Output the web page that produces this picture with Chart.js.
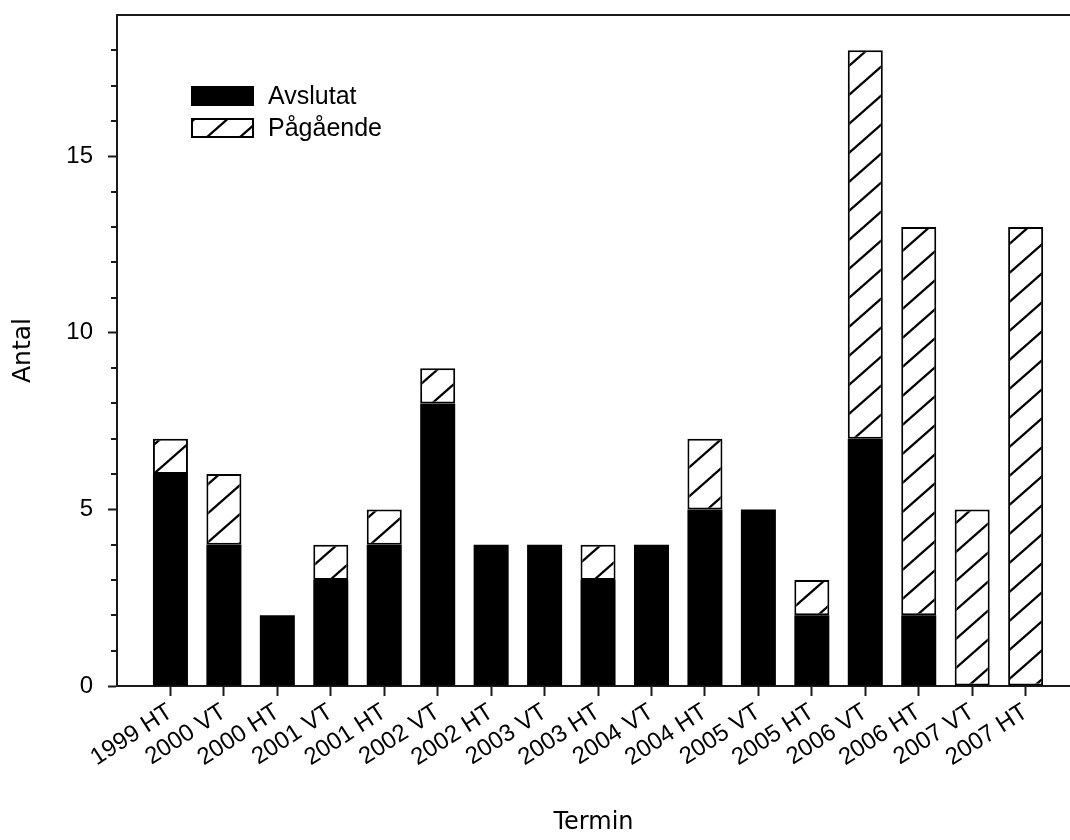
<!DOCTYPE html>
<html>
<head>
<meta charset="utf-8">
<script src="https://cdn.jsdelivr.net/npm/chart.js@4/dist/chart.umd.min.js"></script>
<style>
  html, body { margin: 0; padding: 0; background: #fff; overflow: hidden; }
  #wrap { width: 1070px; height: 840px; position: relative; }
</style>
</head>
<body>
<div id="wrap"><canvas id="c"></canvas></div>
<script>
// ---- data ----
const categories = ['1999 HT','2000 VT','2000 HT','2001 VT','2001 HT','2002 VT','2002 HT','2003 VT','2003 HT','2004 VT','2004 HT','2005 VT','2005 HT','2006 VT','2006 HT','2007 VT','2007 HT'];
const avslutat  = [6, 4, 2, 3, 4, 8, 4, 4, 3, 4, 5, 5, 2, 7, 2, 0, 0];
const pagaende  = [1, 2, 0, 1, 1, 1, 0, 0, 1, 0, 2, 0, 1, 11, 11, 5, 13];
const seriesLabels = ['Avslutat', 'Pågående'];
const yTickValues = [0, 5, 10, 15];
const xTitle = 'Termin';
const yTitle = 'Antal';

// ---- hatch pattern ----
function makeHatch() {
  const W = 33, H = 29;
  const pc = document.createElement('canvas');
  pc.width = W; pc.height = H;
  const p = pc.getContext('2d');
  p.fillStyle = '#fff';
  p.fillRect(0, 0, W, H);
  p.strokeStyle = '#000';
  p.lineWidth = 2.3;
  for (const off of [-H, 0, H]) {
    p.beginPath();
    p.moveTo(-W, 2 * H + off);
    p.lineTo(2 * W, -H + off);
    p.stroke();
  }
  return p.createPattern(pc, 'repeat');
}
const hatch = makeHatch();

const toXY = arr => arr.map((v, i) => ({ x: i + 1, y: v }));

const AXIS_COLOR = '#1a1a1a';

const framePlugin = {
  id: 'frame',
  afterDraw(chart) {
    const ctx = chart.ctx;
    const a = chart.chartArea;
    const ys = chart.scales.y;
    ctx.save();
    ctx.strokeStyle = AXIS_COLOR;
    ctx.lineWidth = 2;
    // top frame line
    ctx.beginPath();
    ctx.moveTo(a.left - 1, a.top);
    ctx.lineTo(a.right, a.top);
    ctx.stroke();
    // minor ticks on y axis
    for (let v = 1; v < ys.max; v++) {
      if (v % 5 === 0) continue;
      const py = Math.round(ys.getPixelForValue(v));
      ctx.beginPath();
      ctx.moveTo(a.left - 6, py);
      ctx.lineTo(a.left, py);
      ctx.stroke();
    }
    // legend
    const ds = chart.data.datasets;
    const lx = a.left + 74, ly = a.top + 71, bw = 63, bh = 20, gap = 32;
    ctx.font = '25px "Liberation Sans", Arial, sans-serif';
    ctx.textBaseline = 'middle';
    ctx.textAlign = 'left';
    ds.forEach((d, i) => {
      const by = ly + i * gap;
      ctx.fillStyle = d.backgroundColor;
      ctx.fillRect(lx, by, bw, bh);
      ctx.lineWidth = 2;
      ctx.strokeStyle = '#000';
      ctx.strokeRect(lx + 1, by + 1, bw - 2, bh - 2);
      ctx.fillStyle = '#000';
      ctx.fillText(d.label, lx + bw + 14, by + bh / 2 + 1);
    });
    ctx.restore();
  }
};

new Chart(document.getElementById('c'), {
  type: 'bar',
  data: {
    datasets: [
      { label: seriesLabels[0], data: toXY(avslutat), backgroundColor: '#000', borderColor: '#000', borderWidth: 0, borderSkipped: false },
      { label: seriesLabels[1], data: toXY(pagaende), backgroundColor: hatch, borderColor: '#000', borderWidth: 2, borderSkipped: false }
    ]
  },
  options: {
    responsive: true,
    maintainAspectRatio: false,
    animation: false,
    layout: { padding: { top: 15, left: 0, right: 0, bottom: 0 } },
    datasets: { bar: { categoryPercentage: 1, barPercentage: 0.655 } },
    plugins: { legend: { display: false }, tooltip: { enabled: false } },
    scales: {
      x: {
        type: 'linear',
        stacked: true,
        offset: false,
        min: 0,
        max: 17.83,
        afterFit(scale) { scale.height = 154; scale.paddingLeft = 0; scale.paddingRight = 0; },
        afterBuildTicks(scale) {
          scale.ticks = categories.map((c, i) => ({ value: i + 1 }));
        },
        ticks: {
          stepSize: 1,
          includeBounds: false,
          autoSkip: false,
          maxRotation: 33,
          minRotation: 33,
          padding: 2,
          color: '#000',
          font: { family: '"Liberation Sans", Arial, sans-serif', size: 24 },
          callback: v => categories[v - 1] ?? ''
        },
        grid: { offset: false, drawOnChartArea: false, drawTicks: true, tickLength: 10, tickColor: AXIS_COLOR, tickWidth: 2 },
        border: { display: true, color: AXIS_COLOR, width: 2 },
        title: {
          display: true, text: xTitle, color: '#000',
          font: { family: '"DejaVu Sans", sans-serif', size: 24 },
          padding: { top: 0, bottom: 3 }
        }
      },
      y: {
        type: 'linear',
        stacked: true,
        min: 0,
        max: 19,
        afterFit(scale) { scale.width = 117; scale.paddingTop = 0; scale.paddingBottom = 0; },
        afterBuildTicks(scale) {
          scale.ticks = yTickValues.map(v => ({ value: v }));
        },
        ticks: {
          stepSize: 5,
          includeBounds: false,
          padding: 15,
          color: '#000',
          font: { family: '"Liberation Sans", Arial, sans-serif', size: 24 }
        },
        grid: { drawOnChartArea: false, drawTicks: true, tickLength: 9, tickColor: AXIS_COLOR, tickWidth: 2 },
        border: { display: true, color: AXIS_COLOR, width: 2 },
        title: {
          display: true, text: yTitle, color: '#000',
          font: { family: '"DejaVu Sans", sans-serif', size: 25 },
          padding: { top: 8, bottom: 0 }
        }
      }
    }
  },
  plugins: [framePlugin]
});
</script>
</body>
</html>
